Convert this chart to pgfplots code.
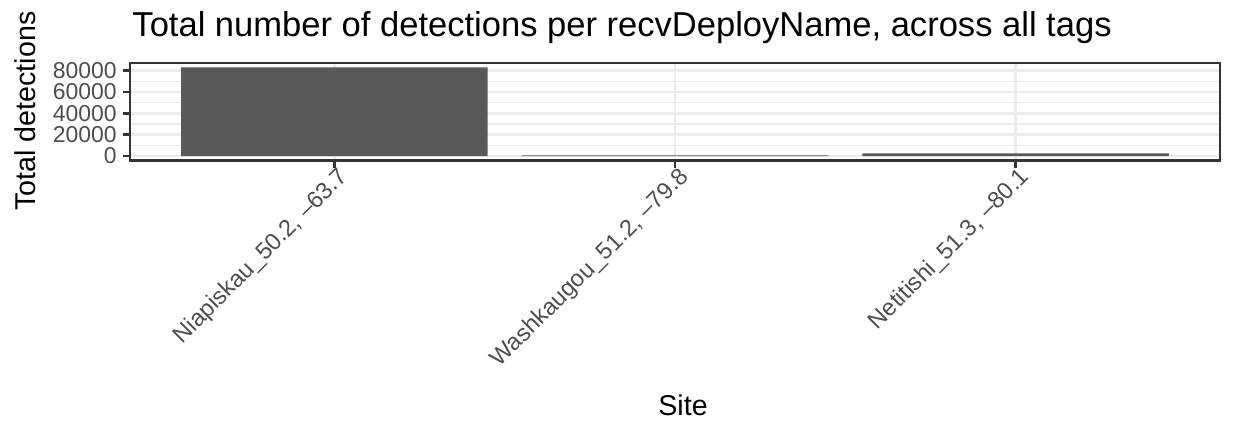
\documentclass[border=0pt]{standalone}
\usepackage{fontspec}
\setmainfont{Liberation Sans}
\usepackage{pgfplots}
\pgfplotsset{compat=1.18}
\definecolor{gridc}{HTML}{EBEBEB}
\definecolor{gray20}{HTML}{333333}
\definecolor{gray30}{HTML}{4D4D4D}
\definecolor{barc}{HTML}{595959}
\begin{document}
\begin{tikzpicture}
\def\u{0.44pt}
\path[use as bounding box] (0,0) rectangle (1238*\u,421*\u);
\begin{axis}[
  at={(130*\u,260.5*\u)}, anchor=south west,
  scale only axis, width=1090*\u, height=97.5*\u,
  xmin=0.4, xmax=3.6, ymin=-4150, ymax=87150,
  xtick={1,2,3},
  xticklabels={{Niapiskau\_50.2, –63.7}, {Washkaugou\_51.2, –79.8}, {Netitishi\_51.3, –80.1}},
  ytick={0,20000,40000,60000,80000},
  minor y tick num=1,
  scaled ticks=false,
  /pgf/number format/1000 sep={},
  /pgf/number format/assume math mode=true,
  ymajorgrids, yminorgrids, xmajorgrids,
  major grid style={gridc, line width=1.2pt},
  minor grid style={gridc, line width=0.6pt},
  axis line style={gray20, line width=1.2pt},
  tick style={gray20, line width=1.2pt},
  major tick length=3.1pt, minor tick length=0pt,
  tick align=outside, xtick pos=lower, ytick pos=left,
  x tick label style={rotate=45, anchor=north east, inner sep=0pt, xshift=1.5pt, text=gray30, font=\fontsize{10.4}{12}\selectfont},
  y tick label style={anchor=east, inner sep=0pt, xshift=-2.6pt, text=gray30, font=\fontsize{10.1}{12}\selectfont},
]
\addplot[ybar, fill=barc, draw=none, bar width=0.9] coordinates {(1,83000) (2,600) (3,2500)};
\end{axis}
\node[anchor=base west, inner sep=0pt, font=\fontsize{15.2}{18}\selectfont] at (132*\u, 384*\u) {Total number of detections per recvDeployName, across all tags};
\node[anchor=base, inner sep=0pt, font=\fontsize{12.6}{15}\selectfont] at (683*\u, 6*\u) {Site};
\node[rotate=90, anchor=base, inner sep=0pt, font=\fontsize{12.6}{15}\selectfont] at (35*\u, 310*\u) {Total detections};
\end{tikzpicture}
\end{document}
